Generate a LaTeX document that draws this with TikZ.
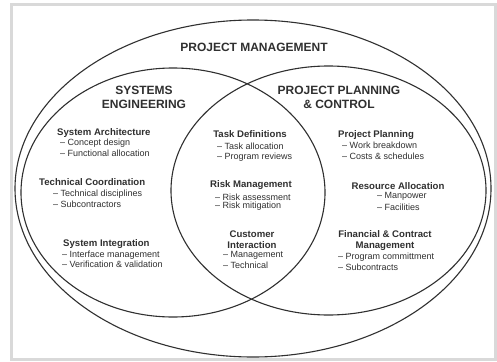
\documentclass[tikz,border=0pt]{standalone}
\usepackage{fontspec}
\setmainfont{Liberation Sans}
\usepackage{xcolor}
\definecolor{framegray}{HTML}{D9D9D9}
\definecolor{inkgray}{HTML}{303030}

\begin{document}
\begin{tikzpicture}[x=1pt,y=-1pt,
    title/.style={font=\fontsize{12}{14}\selectfont\bfseries,align=center,inner sep=0pt,text=inkgray},
    head/.style={font=\fontsize{9.6}{11}\selectfont\bfseries,align=center,inner sep=0pt,text=inkgray},
    item/.style={font=\fontsize{9}{10}\selectfont,anchor=west,inner sep=0pt,text=inkgray}]
    \useasboundingbox (0,0) rectangle (497,361);
    % frame
    \fill[framegray] (10,3) rectangle (497,361);
    \fill[white] (13,6) rectangle (494,358);

    % the three areas
    \draw[inkgray,line width=1.1pt] (253,188.5) ellipse [x radius=238pt,y radius=168.5pt];
    \draw[inkgray,line width=1.1pt] (173,192.5) ellipse [x radius=152pt,y radius=124.5pt];
    \draw[inkgray,line width=1.1pt] (328.5,190.5) ellipse [x radius=157.5pt,y radius=124.5pt];

    \node (pm) at (254,47) [title] {PROJECT MANAGEMENT};
    \node (se) at (144,97) [title] {SYSTEMS\\ENGINEERING};
    \node (ppc) at (339,97) [title] {PROJECT PLANNING\\\& CONTROL};

    % systems engineering
    \node (arch) at (57,133) [head,anchor=west] {System Architecture};
    \node (arch1) at (60,143) [item] {-- Concept design};
    \node (arch2) at (60,153) [item] {-- Functional allocation};
    \node (coord) at (39,182) [head,anchor=west] {Technical Coordination};
    \node (coord1) at (53,194) [item] {-- Technical disciplines};
    \node (coord2) at (53,204) [item] {-- Subcontractors};
    \node (integ) at (63,244) [head,anchor=west] {System Integration};
    \node (integ1) at (62,255) [item] {-- Interface management};
    \node (integ2) at (62,264) [item] {-- Verification \& validation};

    % overlap
    \node (task) at (250,134) [head] {Task Definitions};
    \node (task1) at (217,146) [item] {-- Task allocation};
    \node (task2) at (217,157) [item] {-- Program reviews};
    \node (risk) at (251,185) [head] {Risk Management};
    \node (risk1) at (215,197) [item] {-- Risk assessment};
    \node (risk2) at (215,206) [item] {-- Risk mitigation};
    \node (cust) at (252,239.5) [head] {Customer\\Interaction};
    \node (cust1) at (223,255) [item] {-- Management};
    \node (cust2) at (223,265) [item] {-- Technical};

    % project planning & control
    \node (plan) at (338,135) [head,anchor=west] {Project Planning};
    \node (plan1) at (342,145) [item] {-- Work breakdown};
    \node (plan2) at (342,156) [item] {-- Costs \& schedules};
    \node (res) at (398,186) [head] {Resource Allocation};
    \node (res1) at (377,196) [item] {-- Manpower};
    \node (res2) at (377,207) [item] {-- Facilities};
    \node (fin) at (385,240.5) [head] {Financial \& Contract\\Management};
    \node (fin1) at (338,257) [item] {-- Program committment};
    \node (fin2) at (338,267) [item] {-- Subcontracts};
\end{tikzpicture}
\end{document}
